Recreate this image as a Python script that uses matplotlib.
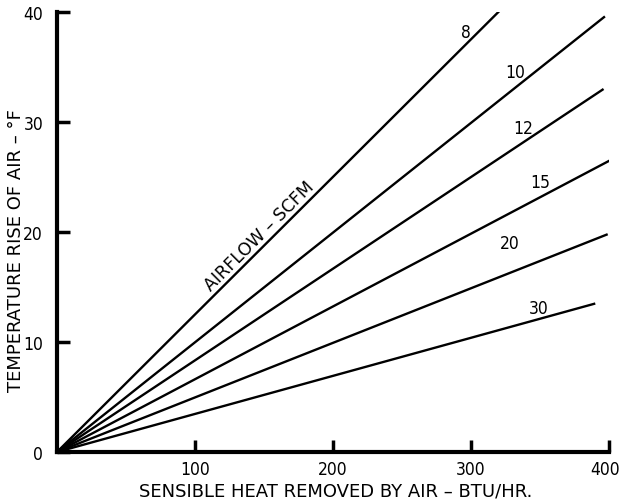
import numpy as np
import matplotlib.pyplot as plt
from matplotlib.transforms import offset_copy

# airflow (scfm) and the far end point of each line
airflow = [8, 10, 12, 15, 20, 30]
end_heat = [323, 397, 396, 402, 399, 390]
end_temp = [40.4, 39.6, 33.0, 26.6, 19.8, 13.5]
label_heat = [296, 332, 338, 350, 328, 349]
label_temp = [37.4, 33.7, 28.6, 23.7, 18.2, 12.3]

fig = plt.figure(figsize=(6.21, 5.02), dpi=100)
ax = fig.add_axes([0.0918, 0.0976, 0.889, 0.8765])

for cfm, xe, ye, xl, yl in zip(airflow, end_heat, end_temp, label_heat, label_temp):
    ax.plot([0, xe], [0, ye], color="black", lw=1.7, solid_capstyle="butt")
    ax.text(xl, yl, str(cfm), fontsize=12.5, ha="center", va="bottom",
            fontstretch="condensed")

ax.text(147, 19.7, "AIRFLOW – SCFM", rotation=45, fontsize=12.5,
        ha="center", va="center", rotation_mode="anchor")

ax.set_xlim(0, 400)
ax.set_ylim(0, 40)
ax.spines["top"].set_visible(False)
ax.spines["right"].set_visible(False)
ax.spines["left"].set_linewidth(3)
ax.spines["bottom"].set_linewidth(3)

ax.set_xticks([100, 200, 300, 400])
ax.set_yticks([0, 10, 20, 30, 40])
ax.set_yticklabels(["0", "10", "20", "30", "40"])
ax.tick_params(direction="in", length=9, width=2.5, labelsize=12.5, pad=6)
ax.tick_params(axis="y", pad=10)
for lab in ax.get_xticklabels() + ax.get_yticklabels():
    lab.set_fontstretch("condensed")
last = ax.get_xticklabels()[-1]
last.set_transform(offset_copy(last.get_transform(), fig=fig, x=-4, units="dots"))

ax.set_xlabel("SENSIBLE HEAT REMOVED BY AIR – BTU/HR.", fontsize=13)
ax.xaxis.set_label_coords(0.505, -0.066)
ax.set_ylabel("TEMPERATURE RISE OF AIR – °F", fontsize=13)
ax.yaxis.set_label_coords(-0.058, 0.46)

plt.savefig("out.png", dpi=100)
